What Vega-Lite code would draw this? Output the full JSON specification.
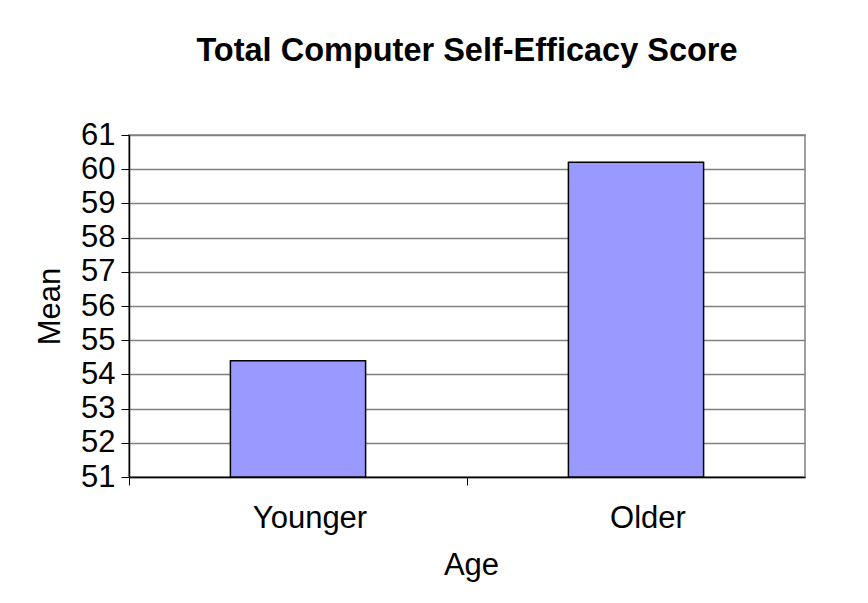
{
  "$schema": "https://vega.github.io/schema/vega-lite/v6.json",
  "width": 676,
  "height": 342,
  "autosize": {"type": "none"},
  "padding": {"left": 129, "top": 135, "right": 63, "bottom": 126},
  "background": "white",
  "title": {
    "text": "Total Computer Self-Efficacy Score",
    "font": "Liberation Sans",
    "fontSize": 32.5,
    "fontWeight": "bold",
    "color": "black",
    "anchor": "middle",
    "baseline": "alphabetic",
    "offset": 26
  },
  "data": {
    "values": [
      {"Age": "Younger", "Mean": 54.4},
      {"Age": "Older", "Mean": 60.2}
    ]
  },
  "mark": {
    "type": "bar",
    "fill": "#9999FF",
    "stroke": "black",
    "strokeWidth": 1.5,
    "width": {"band": 0.4}
  },
  "encoding": {
    "x": {
      "field": "Age",
      "type": "nominal",
      "sort": ["Younger", "Older"],
      "scale": {"paddingInner": 0, "paddingOuter": 0},
      "axis": {
        "title": "Age",
        "labelAngle": 0,
        "bandPosition": 0,
        "labelOffset": 12,
        "labelFont": "Liberation Sans",
        "labelFontSize": 31,
        "labelColor": "black",
        "labelPadding": 18,
        "titleFont": "Liberation Sans",
        "titleFontSize": 31,
        "titleFontWeight": "normal",
        "titleColor": "black",
        "titlePadding": 17,
        "titleX": 342,
        "domainColor": "black",
        "domainWidth": 1.5,
        "tickColor": "black",
        "tickSize": 8,
        "grid": false
      }
    },
    "y": {
      "field": "Mean",
      "type": "quantitative",
      "scale": {"domain": [51, 61], "zero": false, "nice": false},
      "axis": {
        "title": "Mean",
        "values": [51, 52, 53, 54, 55, 56, 57, 58, 59, 60, 61],
        "labelFont": "Liberation Sans",
        "labelFontSize": 31,
        "labelColor": "black",
        "labelPadding": 6,
        "titleFont": "Liberation Sans",
        "titleFontSize": 31,
        "titleFontWeight": "normal",
        "titleColor": "black",
        "titlePadding": 14,
        "domainColor": "black",
        "domainWidth": 1.5,
        "tickColor": "black",
        "tickSize": 8,
        "grid": true,
        "gridColor": "#808080",
        "gridWidth": 1.5
      }
    },
    "y2": {"datum": 51}
  },
  "config": {
    "view": {"stroke": "#a0a0a0", "strokeWidth": 2}
  }
}
